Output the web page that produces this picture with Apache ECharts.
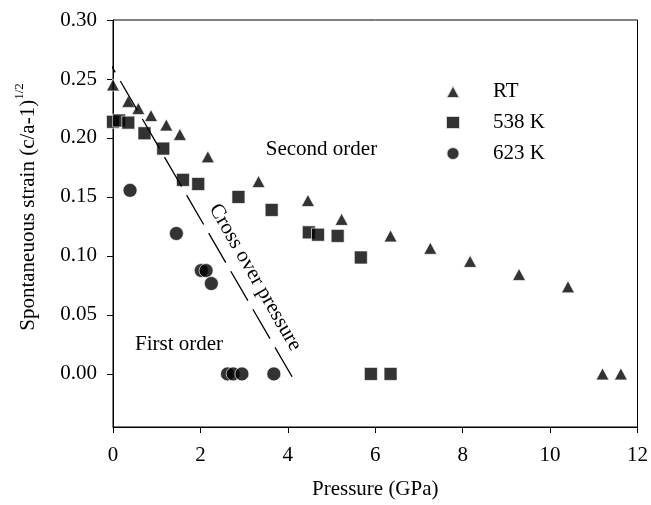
<!DOCTYPE html>
<html>
<head>
<meta charset="UTF-8">
<title></title>
<script src="https://cdn.jsdelivr.net/npm/echarts@6/dist/echarts.min.js"></script>
<style>
  body { margin: 0; }
  #main { width: 651px; height: 505px; }
</style>
</head>
<body>
<div id="main"></div>
<script>
// RT
var rtP = [0, 0.35, 0.58, 0.87, 1.22, 1.53, 2.17, 3.33, 4.46, 5.23, 6.35, 7.26, 8.17, 9.29, 10.41, 11.2, 11.62];
var rtS = [0.245, 0.231, 0.225, 0.219, 0.211, 0.203, 0.184, 0.163, 0.147, 0.131, 0.117, 0.1065, 0.0954, 0.0843, 0.0738, 0, 0];
// 538 K
var k538P = [0, 0.14, 0.35, 0.72, 1.15, 1.6, 1.95, 2.87, 3.63, 4.48, 4.69, 5.14, 5.67, 5.9, 6.35];
var k538S = [0.2137, 0.2148, 0.213, 0.204, 0.191, 0.1645, 0.161, 0.15, 0.139, 0.12, 0.118, 0.117, 0.0987, 0, 0];
// 623 K
var k623P = [0.39, 1.45, 2.02, 2.13, 2.25, 2.62, 2.75, 2.95, 3.68];
var k623S = [0.1556, 0.119, 0.0876, 0.0876, 0.0766, 0, 0, 0, 0];
// cross over line
var crossP = [-0.04, 4.21];
var crossS = [0.2615, -0.0096];

var yTicks = [0, 0.05, 0.10, 0.15, 0.20, 0.25, 0.30];

var font = 'Liberation Serif';
var chart = echarts.init(document.getElementById('main'));

function pairs(xs, ys) {
    return xs.map(function (x, i) { return [x, ys[i]]; });
}

var marker = {color: '#000', borderColor: '#fff', borderWidth: 0.8};

chart.setOption({
    animation: false,
    grid: {left: 113, right: 9, top: 20, bottom: 69, show: true, borderColor: '#000', borderWidth: 1},
    legend: {
        orient: 'vertical',
        left: 440,
        top: 76,
        itemGap: 10,
        itemWidth: 14,
        itemHeight: 13,
        textStyle: {fontFamily: font, fontSize: 21, color: '#000', padding: [0, 0, 0, 28]},
        data: [
            {name: 'RT', icon: 'triangle'},
            {name: '538 K', icon: 'rect'},
            {name: '623 K', icon: 'circle'}
        ]
    },
    xAxis: {
        type: 'value',
        min: 0,
        max: 12,
        interval: 2,
        axisLine: {onZero: false, lineStyle: {color: '#000', width: 1}},
        axisTick: {show: true, length: 6, lineStyle: {color: '#000'}},
        axisLabel: {fontFamily: font, fontSize: 21, color: '#000', margin: 18},
        splitLine: {show: false},
        name: 'Pressure (GPa)',
        nameLocation: 'middle',
        nameGap: 52,
        nameTextStyle: {fontFamily: font, fontSize: 21, color: '#000'}
    },
    yAxis: {
        type: 'value',
        min: -0.045,
        max: 0.30,
        axisLine: {show: true, onZero: false, lineStyle: {color: '#000', width: 1}},
        axisTick: {show: true, length: 6, customValues: yTicks, lineStyle: {color: '#000'}},
        axisLabel: {
            fontFamily: font, fontSize: 21, color: '#000', margin: 16,
            customValues: yTicks,
            formatter: function (v) { return v.toFixed(2); }
        },
        splitLine: {show: false}
    },
    series: [
        {
            name: 'cross',
            type: 'line',
            data: pairs(crossP, crossS),
            symbol: 'none',
            clip: false,
            silent: true,
            lineStyle: {color: '#000', width: 1.3, type: [34, 10], dashOffset: 26}
        },
        {
            name: 'RT',
            type: 'scatter',
            symbol: 'triangle',
            symbolSize: [13, 12],
            clip: false,
            itemStyle: marker,
            data: pairs(rtP, rtS)
        },
        {
            name: '538 K',
            type: 'scatter',
            symbol: 'rect',
            symbolSize: 13,
            clip: false,
            itemStyle: marker,
            data: pairs(k538P, k538S)
        },
        {
            name: '623 K',
            type: 'scatter',
            symbol: 'circle',
            symbolSize: 14,
            clip: false,
            itemStyle: marker,
            data: pairs(k623P, k623S)
        }
    ]
});

function note(text, at, rot) {
    var p = chart.convertToPixel('grid', at);
    return {
        type: 'text',
        x: p[0],
        y: p[1],
        rotation: rot,
        style: {text: text, fontFamily: font, fontSize: 21, fill: '#000', align: 'center', verticalAlign: 'middle'}
    };
}

chart.setOption({
    graphic: [
        note('Second order', [4.77, 0.1905], 0),
        note('First order', [1.51, 0.0249], 0),
        note('Cross over pressure', [3.25, 0.0818], -1.049),
        {
            type: 'text',
            x: 26,
            y: 207,
            rotation: Math.PI / 2,
            style: {
                text: '{a|Spontaneuous strain (c/a-1)}{s|1/2}',
                align: 'center',
                verticalAlign: 'middle',
                rich: {
                    a: {fontFamily: font, fontSize: 21, fill: '#000', lineHeight: 26, verticalAlign: 'bottom'},
                    s: {fontFamily: font, fontSize: 13, fill: '#000', lineHeight: 26, verticalAlign: 'top'}
                }
            }
        }
    ]
});
</script>
</body>
</html>
